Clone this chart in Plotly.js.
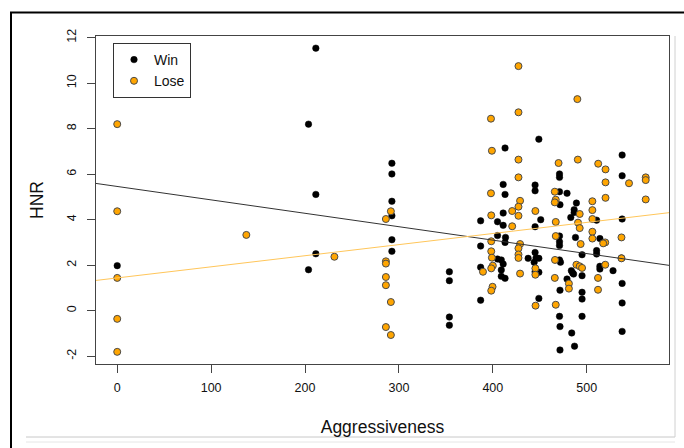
<!DOCTYPE html>
<html>
<head>
<meta charset="utf-8">
<script src="https://cdn.plot.ly/plotly-3.0.1.min.js"></script>
<style>
  html, body { margin: 0; padding: 0; background: #ffffff; }
  #chart { width: 684px; height: 448px; }
</style>
</head>
<body>
<div id="chart"></div>
<script>
// ---- data ----
const seriesNames = ["Win", "Lose"];

const winX = [0, 211.5, 203.7, 211.5, 211.5, 203.7,
  292.5, 292.5, 292.5, 292.5, 292.5, 292.5,
  353.7, 353.7, 353.7, 353.7,
  449, 413, 471, 471, 411, 445, 445, 413, 471, 479,
  471.5, 489, 411, 387, 405, 451, 411, 445, 405, 413.5,
  413, 387, 445, 437.6, 446, 449, 471, 471, 471, 471,
  472, 405, 409, 411, 444, 387, 409, 409, 413, 445,
  449, 387, 449, 471, 471.5, 471.5, 484, 487, 483.6, 486,
  479, 471.5, 483, 488, 486.6, 486.6, 537.7, 537.7, 510.5, 537.7,
  514, 495, 510.5, 510.5, 537, 514, 514, 528, 495, 495,
  495, 537.7, 537.7, 495, 537.7, 485];
const winY = [1.98, 11.54, 8.2, 5.11, 2.5, 1.8,
  6.48, 6.01, 4.81, 4.17, 3.12, 2.61,
  1.71, 1.32, -0.28, -0.64,
  7.54, 7.15, 6.01, 5.86, 5.55, 5.52, 5.27, 5.11, 5.23, 5.16,
  4.66, 4.73, 4.29, 3.95, 3.91, 4.0, 3.75, 3.69, 3.30, 3.22,
  3.0, 2.84, 2.56, 2.30, 2.32, 2.30, 3.28, 3.03, 2.86, 2.23,
  2.13, 2.27, 2.23, 2.05, 2.13, 1.91, 1.79, 1.51, 1.42, 1.71,
  1.69, 0.46, 0.54, -0.25, -0.70, -1.73, -0.98, -1.56, 1.76, 1.61,
  1.39, 0.90, 4.10, 3.22, 4.44, 4.32, 6.84, 5.93, 3.98, 4.03,
  3.17, 2.46, 2.64, 2.49, 2.32, 1.95, 1.83, 1.76, 1.54, 0.81,
  0.51, 1.20, 0.34, -0.25, -0.91, 1.66];

const loseX = [0, 0, 0, 0, 0, 137.5, 231.3,
  291.4, 286.1, 286.1, 286.1, 286.1, 286.1, 291.4, 286.1, 291.4,
  427.3, 490, 427.3, 398, 399, 427.3, 490.5, 470, 427.3, 398,
  466, 467, 466, 429, 427.3, 445.3, 420.6, 427.3, 398.3, 420.6,
  467, 467, 398.3, 429, 427.3, 398.3, 427.3, 427.3, 466.2, 399,
  400, 398.3, 389.5, 445.3, 445.3, 429, 399.7, 398.3, 445.5, 467,
  481, 481, 490.7, 489, 492.5, 495, 512.2, 520, 520, 545,
  562.8, 562.8, 562.8, 520, 506, 506, 492.5, 506, 492.5, 506,
  506, 537, 519.7, 517.5, 493.5, 537, 519.7, 512, 512, 466];
const loseY = [8.2, 4.37, 1.44, -0.36, -1.81, 3.33, 2.37,
  4.37, 4.03, 2.17, 2.07, 1.48, 1.12, 0.38, -0.72, -1.07,
  10.75, 9.30, 8.72, 8.44, 7.03, 6.64, 6.64, 6.49, 5.86, 5.16,
  5.23, 4.88, 4.76, 4.83, 4.57, 4.38, 4.38, 4.17, 4.19, 3.71,
  3.90, 3.28, 3.05, 2.93, 2.74, 2.61, 2.47, 2.32, 2.23, 2.33,
  1.98, 1.86, 1.71, 1.86, 1.58, 1.63, 1.05, 0.88, 0.22, 0.26,
  1.19, 0.97, 3.87, 2.02, 1.95, 1.88, 6.46, 6.21, 5.64, 5.60,
  5.86, 5.74, 4.89, 4.96, 4.81, 4.42, 4.25, 4.03, 3.63, 3.47,
  3.17, 3.22, 3.0, 2.96, 2.93, 2.30, 2.02, 1.44, 0.92, 1.44];

// fitted lines (intercept, slope)
const fitIntercepts = [5.46, 1.44];
const fitSlopes = [-0.0059, 0.00488];

const xTicks = [0, 100, 200, 300, 400, 500];
const yTicks = [-2, 0, 2, 4, 6, 8, 10, 12];
const xTitle = "Aggressiveness";
const yTitle = "HNR";

// ---- plot ----
const xRange = [-22.6, 587.6];
const yRange = [-2.344, 12.074];

const pointTraces = [
  {x: winX, y: winY, name: seriesNames[0], type: "scatter", mode: "markers",
   marker: {color: "#000000", size: 6.5, line: {color: "#000000", width: 0.5}}},
  {x: loseX, y: loseY, name: seriesNames[1], type: "scatter", mode: "markers",
   marker: {color: "#FFA500", size: 7, line: {color: "#4a4a4a", width: 1}}}
];
const lineColors = ["#333333", "#FFC65A"];
const lineTraces = fitIntercepts.map((b, i) => ({
  x: xRange.slice(),
  y: xRange.map(v => b + fitSlopes[i] * v),
  type: "scatter", mode: "lines", showlegend: false, hoverinfo: "skip",
  line: {color: lineColors[i], width: 1}
}));

// geometry of plot area (px) for frame decorations
const W = 684, H = 448, L = 96, R = 15, T = 36, B = 84;
const pw = W - L - R, ph = H - T - B;
const px = v => (v - L) / pw;
const py = v => (H - B - v) / ph;

const layout = {
  width: W, height: H,
  margin: {l: L, r: R, t: T, b: B, pad: 0},
  paper_bgcolor: "#ffffff", plot_bgcolor: "#ffffff",
  font: {family: "Liberation Sans, Arial, sans-serif", color: "#111111", size: 12},
  showlegend: true,
  legend: {
    x: px(113), y: py(43), xanchor: "left", yanchor: "top",
    bgcolor: "#ffffff", bordercolor: "#333333", borderwidth: 1,
    font: {size: 14, color: "#111111"},
    itemwidth: 30, tracegroupgap: 0
  },
  xaxis: {
    range: xRange, tickvals: xTicks, ticktext: xTicks.map(String),
    showgrid: false, zeroline: false, showline: true, mirror: true,
    linecolor: "#444444", linewidth: 1,
    ticks: "outside", ticklen: 8, tickcolor: "#444444", tickwidth: 1,
    ticklabelstandoff: 4,
    tickfont: {size: 12.5, color: "#111111"},
    title: {text: xTitle, font: {size: 17.5, color: "#111111"}, standoff: 26}
  },
  yaxis: {
    range: yRange, tickvals: yTicks, ticktext: yTicks.map(String),
    showgrid: false, zeroline: false, showline: true, mirror: true,
    linecolor: "#444444", linewidth: 1,
    ticks: "outside", ticklen: 8, tickcolor: "#444444", tickwidth: 1,
    tickangle: -90, ticklabelstandoff: 6,
    tickfont: {size: 12.5, color: "#111111"},
    title: {text: yTitle, font: {size: 17.5, color: "#111111"}, standoff: 16}
  },
  shapes: [
    {type: "line", xref: "paper", yref: "paper", x0: px(10), x1: px(684), y0: py(12.5), y1: py(12.5),
     line: {color: "#000000", width: 2}},
    {type: "line", xref: "paper", yref: "paper", x0: px(11), x1: px(11), y0: py(12), y1: py(448),
     line: {color: "#000000", width: 2}},
    {type: "line", xref: "paper", yref: "paper", x0: px(26), x1: px(675), y0: py(437), y1: py(437),
     line: {color: "#c8c8c8", width: 1}},
    {type: "line", xref: "paper", yref: "paper", x0: px(26), x1: px(675), y0: py(442), y1: py(442),
     line: {color: "#e6e6e6", width: 1}},
    {type: "line", xref: "paper", yref: "paper", x0: px(675), x1: px(675), y0: py(36), y1: py(437),
     line: {color: "#d0d0d0", width: 1}}
  ]
};

Plotly.newPlot("chart", pointTraces.concat(lineTraces), layout, {displayModeBar: false, staticPlot: true});
</script>
</body>
</html>
